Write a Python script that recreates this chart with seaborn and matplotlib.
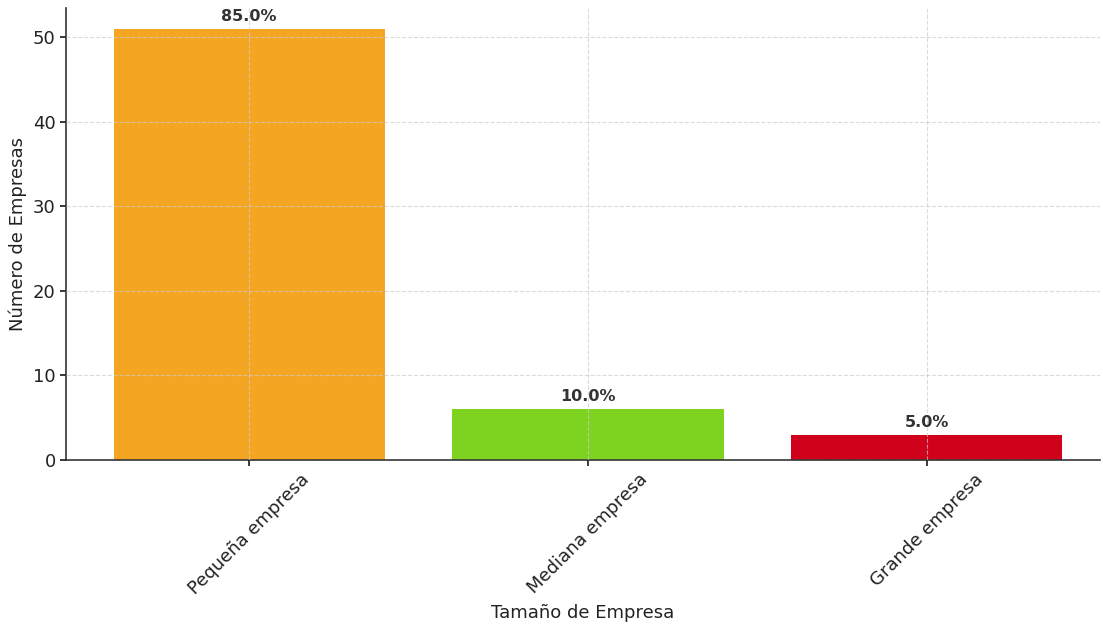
import matplotlib
matplotlib.use("Agg")
import matplotlib.pyplot as plt
import seaborn as sns
import pandas as pd

categories = ["Pequeña empresa", "Mediana empresa", "Grande empresa"]
counts = [51, 6, 3]
colors = ["#F4A623", "#7ED321", "#D0021B"]

sns.set_theme(style="white")
plt.rcParams["font.family"] = ["DejaVu Sans"]

df = pd.DataFrame({"Tamaño": categories, "Empresas": counts})
total = sum(counts)

fig = plt.figure(figsize=(11.03, 6.25), dpi=100)
ax = fig.add_axes([0.060, 0.264, 0.937, 0.724])

sns.barplot(data=df, x="Tamaño", y="Empresas", hue="Tamaño",
            palette=colors, width=0.8, saturation=1, legend=False,
            linewidth=0, ax=ax)

for i, v in enumerate(counts):
    ax.text(i, v + 0.6, f"{v / total * 100:.1f}%", ha="center", va="bottom",
            fontsize=11.5, fontweight="bold", color="#333333")

ax.set_xlim(-0.54, 2.51)
ax.set_ylim(0, 53.55)
ax.set_yticks([0, 10, 20, 30, 40, 50])
ax.grid(True, linestyle="--", color="#cccccc", linewidth=0.8, alpha=0.7)
ax.set_axisbelow(False)

for s in ["top", "right"]:
    ax.spines[s].set_visible(False)
for s in ["left", "bottom"]:
    ax.spines[s].set_color("#333333")
    ax.spines[s].set_linewidth(1.2)

ax.tick_params(axis="both", labelsize=13, colors="#222222", length=4,
               direction="out", left=True, bottom=True)
plt.setp(ax.get_xticklabels(), rotation=45, ha="center", rotation_mode="default")

ax.set_xlabel("Tamaño de Empresa", fontsize=13, color="#222222")
ax.set_ylabel("Número de Empresas", fontsize=13, color="#222222")

fig.savefig("out.png", dpi=100)
